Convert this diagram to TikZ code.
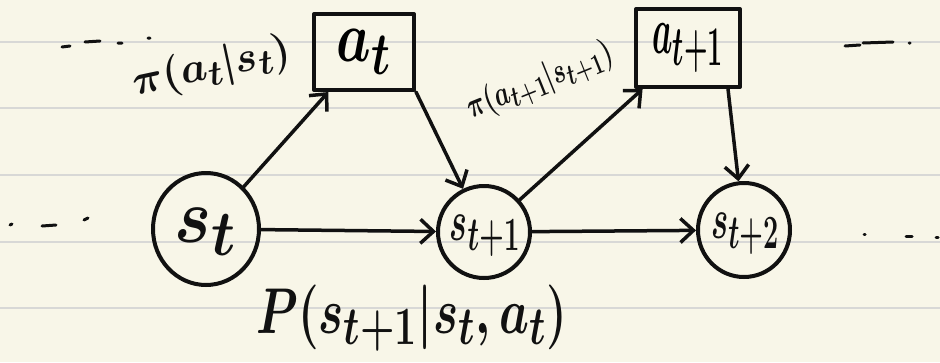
\documentclass[tikz,border=0pt]{standalone}
\usepackage{graphicx}
\usetikzlibrary{arrows.meta,shapes.geometric}
\definecolor{paper}{HTML}{F8F6E8}
\definecolor{rule}{HTML}{D8D8D6}
\definecolor{ink}{HTML}{111111}
\newcommand{\hugemath}[3]{\scalebox{#1}[#2]{\Huge\boldmath$#3$}}
\begin{document}
\begin{tikzpicture}[x=1pt,y=-1pt,
  ink/.style={draw=ink,line width=4pt,line cap=round,line join=round},
  statenode/.style={ink,ellipse,inner sep=0pt},
  actnode/.style={ink,rectangle,inner sep=0pt},
  conn/.style={ink,line width=3.5pt,-{Straight Barb[length=13pt,width=24pt,line width=3.5pt]}},
  lbl/.style={text=ink,inner sep=0pt},
  dots/.style={draw=ink,line width=3pt,line cap=round}]
\fill[paper] (0,0) rectangle (940,362);
\useasboundingbox (0,0) rectangle (940,362);
\foreach \yy in {42,108,175,242,308} \draw[rule,line width=1.3pt] (0,\yy) -- (940,\yy);
% nodes
\node[statenode,minimum width=106pt,minimum height=112pt] (st) at (206,229) {};
\node[lbl] (stx) at (206,232) {\hugemath{2.8}{3.1}{s_t}};
\node[statenode,minimum width=92pt,minimum height=92pt] (st1) at (484,232) {};
\node[lbl] (st1x) at (485,236) {\hugemath{1.35}{2.3}{s_{t+1}}};
\node[statenode,minimum width=92pt,minimum height=94pt] (st2) at (744,230) {};
\node[lbl] (st2x) at (745,234) {\hugemath{1.3}{2.3}{s_{t+2}}};
\node[actnode,minimum width=100pt,minimum height=76pt] (at) at (364,52) {\hugemath{2.2}{2.9}{a_t}};
\node[actnode,minimum width=104pt,minimum height=78pt] (at1) at (688,48) {\hugemath{1.3}{2.7}{a_{t+1}}};
% connectors
\draw[conn] (st) -- (st1);
\draw[conn] (st1) -- (st2);
\draw[conn] (st) -- (at);
\draw[conn] (st1) -- (at1);
\draw[conn] (at.south east) -- (st1);
\draw[conn] (at1.south) ++(40pt,0) coordinate (a1s) (a1s) -- (st2);
% labels
\node[lbl,rotate=12] (l1) at (212,68) {\hugemath{1.7}{1.7}{\pi(a_t|s_t)}};
\node[lbl,rotate=22] (l2) at (540,82) {\hugemath{1.0}{1.4}{\pi(a_{t+1}|s_{t+1})}};
\node[lbl] (l3) at (412,318) {\hugemath{1.9}{2.6}{P(s_{t+1}|s_t,a_t)}};
% ellipsis marks
\draw[dots] (62,47) -- (70,46) (85,42) -- (100,41) (118,43) -- (122,43) (148,38) -- (150,38);
\draw[dots] (10,225) -- (12,224) (42,226) -- (56,225) (84,220) -- (88,218);
\draw[dots] (845,46) -- (860,45) (863,43) -- (893,42) (909,43) -- (910,43);
\draw[dots] (864,234) -- (865,234) (906,236) -- (912,236) (936,237) -- (938,237);
\end{tikzpicture}
\end{document}
